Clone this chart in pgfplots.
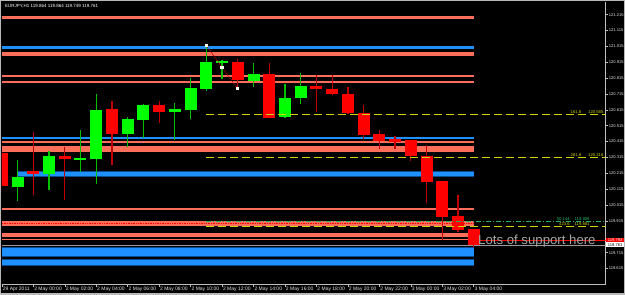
\documentclass[border=0pt]{standalone}
\usepackage{fontspec}
\setmainfont{Liberation Sans}
\usepackage{pgfplots}
\pgfplotsset{compat=1.18}
\usepackage{pgfplotstable}
\usetikzlibrary{backgrounds,calc}

\definecolor{bullbody}{HTML}{00FF00}
\definecolor{bullwick}{HTML}{00C000}
\definecolor{bearbody}{HTML}{FF0000}
\definecolor{bearwick}{HTML}{C00000}
\definecolor{salmonl}{HTML}{FA6E5A}
\definecolor{dblue}{HTML}{1E90FF}
\definecolor{dblueedge}{HTML}{0A4C90}
\definecolor{fibyellow}{HTML}{D2D200}
\definecolor{fibgreen}{HTML}{1EB464}
\definecolor{axisgray}{HTML}{BEBEBE}
\definecolor{labelgray}{HTML}{E6E6E6}
\definecolor{notegray}{HTML}{A6A6A6}

% bullish candles: hour index, open, high, low, close
\pgfplotstableread{
t o hi lo c
-1 120.133 120.299 120.040 120.192
1 120.213 120.358 120.110 120.324
3 120.299 120.488 120.225 120.311
4 120.305 120.715 120.146 120.614
6 120.465 120.568 120.379 120.557
7 120.553 120.652 120.436 120.644
9 120.600 120.656 120.425 120.620
10 120.614 120.816 120.556 120.753
11 120.745 121.024 120.734 120.917
12 120.911 120.929 120.808 120.923
14 120.799 120.911 120.761 120.839
16 120.570 120.778 120.564 120.690
17 120.690 120.849 120.652 120.767
}\bull

% bearish candles
\pgfplotstableread{
t o hi lo c
-2 120.343 120.349 120.097 120.137
0 120.230 120.475 120.078 120.213
2 120.322 120.383 120.047 120.305
5 120.619 120.671 120.267 120.465
8 120.646 120.673 120.534 120.603
13 120.917 120.936 120.745 120.803
15 120.841 120.912 120.564 120.568
18 120.767 120.835 120.603 120.747
19 120.747 120.835 120.709 120.715
20 120.715 120.759 120.592 120.595
21 120.595 120.644 120.433 120.457
22 120.463 120.488 120.368 120.421
23 120.429 120.450 120.370 120.414
24 120.425 120.428 120.295 120.324
25 120.326 120.393 120.026 120.160
26 120.165 120.166 119.795 119.944
27 119.948 120.078 119.847 119.859
28 119.864 119.864 119.749 119.761
}\bear

\begin{document}
\begin{tikzpicture}[x=1pt,y=1pt]
\begin{axis}[
  scale only axis, width=603.66pt, height=282pt,
  xmin=-2, xmax=36.376, ymin=119.517, ymax=121.2951,
  clip mode=individual,
  axis x line=bottom, axis y line=right,
  x axis line style={-}, y axis line style={-},
  axis line style={draw=axisgray, line width=0.8pt},
  tick align=outside, major tick length=2.5pt,
  tick style={draw=axisgray, line width=0.5pt},
  xtick={-2,0,2,...,28},
  xticklabels={29 Apr 2011, 2 May 00:00, 2 May 02:00, 2 May 04:00, 2 May 06:00, 2 May 08:00, 2 May 10:00, 2 May 12:00, 2 May 14:00, 2 May 16:00, 2 May 18:00, 2 May 20:00, 2 May 22:00, 3 May 00:00, 3 May 02:00, 3 May 04:00},
  xticklabel style={anchor=north west, inner sep=0pt, font=\fontsize{5}{5.5}\selectfont, text=labelgray, xshift=0.8pt, yshift=0pt},
  ytick={119.515,119.615,119.715,119.915,120.015,120.115,120.215,120.315,120.415,120.515,120.615,120.715,120.815,120.915,121.015,121.115,121.215},
  yticklabels={119.515,119.615,119.715,119.915,120.015,120.115,120.215,120.315,120.415,120.515,120.615,120.715,120.815,120.915,121.015,121.115,121.215},
  yticklabel style={anchor=west, inner sep=0.6pt, font=\fontsize{4.1}{5}\selectfont, text=labelgray},
]
\coordinate (bl) at (rel axis cs:0,0);
% support / resistance zones (behind the candles)
\addplot[salmonl, line width=2.7pt, forget plot] coordinates {(-2,121.199) (28,121.199)};
\addplot[dblueedge, line width=3.6pt, forget plot] coordinates {(-2,121.008) (28,121.008)};
\addplot[dblue, line width=2.4pt, forget plot] coordinates {(-2,121.008) (28,121.008)};
\addplot[salmonl, line width=4.3pt, forget plot] coordinates {(-2,120.966) (28,120.966)};
\addplot[salmonl, line width=2.3pt, forget plot] coordinates {(-2,120.830) (28,120.830)};
\addplot[salmonl, line width=2.5pt, forget plot] coordinates {(-2,120.792) (28,120.792)};
\addplot[dblue, line width=2.3pt, forget plot] coordinates {(-2,120.439) (28,120.439)};
\addplot[salmonl, line width=1.7pt, forget plot] coordinates {(-2,120.414) (28,120.414)};
\addplot[salmonl, line width=5.3pt, forget plot] coordinates {(-2,120.368) (28,120.368)};
\addplot[dblueedge, line width=6pt, forget plot] coordinates {(-1,120.211) (28,120.211)};
\addplot[dblue, line width=4.6pt, forget plot] coordinates {(-1,120.211) (28,120.211)};
\addplot[salmonl, line width=2pt, forget plot] coordinates {(-2,119.992) (28,119.992)};
\addplot[salmonl, line width=5pt, forget plot] coordinates {(-2,119.897) (28,119.897)};
\addplot[salmonl, line width=3.4pt, forget plot] coordinates {(-2,119.826) (28,119.826)};
\addplot[salmonl, line width=1.3pt, forget plot] coordinates {(-2,119.796) (28,119.796)};
\addplot[dblueedge, line width=10pt, forget plot] coordinates {(-2,119.717) (28,119.717)};
\addplot[dblue, line width=8.4pt, forget plot] coordinates {(-2,119.717) (28,119.717)};
\addplot[dblueedge, line width=6.4pt, forget plot] coordinates {(-2,119.653) (28,119.653)};
\addplot[dblue, line width=4.8pt, forget plot] coordinates {(-2,119.653) (28,119.653)};
% bid line and alert line
\addplot[gray!80, line width=0.8pt, forget plot] coordinates {(-2,119.763) (36.376,119.763)};
\addplot[bearbody, line width=0.8pt, forget plot] coordinates {(28,119.793) (36.376,119.793)};
% wicks
\addplot[draw=none, mark=none, forget plot, error bars/.cd, y dir=both, y explicit, error mark=none,
  error bar style={draw=bullwick, line width=1.2pt}]
  table[x=t, y expr={(\thisrow{hi}+\thisrow{lo})/2}, y error expr={(\thisrow{hi}-\thisrow{lo})/2}] {\bull};
\addplot[draw=none, mark=none, forget plot, error bars/.cd, y dir=both, y explicit, error mark=none,
  error bar style={draw=bearwick, line width=1.2pt}]
  table[x=t, y expr={(\thisrow{hi}+\thisrow{lo})/2}, y error expr={(\thisrow{hi}-\thisrow{lo})/2}] {\bear};
% bodies
\addplot[draw=none, mark=none, forget plot, error bars/.cd, y dir=both, y explicit, error mark=none,
  error bar style={draw=bullbody, line width=12pt, line cap=butt}]
  table[x=t, y expr={(\thisrow{o}+\thisrow{c})/2}, y error expr={abs(\thisrow{c}-\thisrow{o})/2}] {\bull};
\addplot[draw=none, mark=none, forget plot, error bars/.cd, y dir=both, y explicit, error mark=none,
  error bar style={draw=bearbody, line width=12pt, line cap=butt}]
  table[x=t, y expr={(\thisrow{o}+\thisrow{c})/2}, y error expr={abs(\thisrow{c}-\thisrow{o})/2}] {\bear};
% objects in front
\addplot[bearbody, densely dotted, line width=0.7pt, forget plot] coordinates {(-2,119.899) (28,119.899)};
\addplot[fibyellow, dash pattern=on 8pt off 4pt, line width=0.9pt, forget plot] coordinates {(11,120.587) (36.376,120.587)};
\addplot[fibyellow, dash pattern=on 8pt off 4pt, line width=0.9pt, forget plot] coordinates {(11,120.316) (36.376,120.316)};
\addplot[fibyellow, dash pattern=on 8pt off 4pt, line width=0.9pt, forget plot] coordinates {(11,119.881) (36.376,119.881)};
\addplot[fibgreen, dash pattern=on 5pt off 2pt on 1pt off 2pt, line width=0.9pt, forget plot] coordinates {(11,119.912) (36.376,119.912)};
\addplot[bearwick, densely dotted, line width=1pt, mark=square*, mark size=1.1pt, mark options={solid, fill=white, draw=white}, forget plot]
  coordinates {(11,121.020) (12,120.883) (13,120.748)};
% texts
\node[anchor=north west, inner sep=0pt, text=white, font=\fontsize{4.5}{5}\selectfont] at (rel axis cs:0,1) [xshift=3.2pt, yshift=-2pt] {EURJPY,H1 119.864 119.864 119.749 119.761};
\node[anchor=south east, inner sep=0.4pt, text=fibyellow, font=\fontsize{4.2}{5}\selectfont] at (axis cs:36.28,120.587) {161.8\hspace{7pt}120.585};
\node[anchor=south east, inner sep=0.4pt, text=fibyellow, font=\fontsize{4.2}{5}\selectfont] at (axis cs:36.28,120.316) {261.8\hspace{7pt}120.316};
\node[anchor=south east, inner sep=0.4pt, text=fibgreen, font=\fontsize{4.2}{5}\selectfont] at (axis cs:35.4,119.912) {50.144\hspace{5pt}119.908};
\node[anchor=south east, inner sep=0.4pt, text=fibyellow, font=\fontsize{4.2}{5}\selectfont] at (axis cs:35.4,119.881) {423.6\hspace{5pt}119.881};
\node[anchor=base west, inner sep=0pt, text=notegray, font=\fontsize{13.2}{14}\selectfont] at (axis cs:28.27,119.763) {Lots of support here};
\node[anchor=west, inner sep=0.3pt, fill=bearbody, text=white, minimum width=19pt, minimum height=5pt, font=\fontsize{4.1}{5}\selectfont] at (axis cs:36.376,119.793) {119.793};
\node[anchor=west, inner sep=0.3pt, fill=white, text=black, minimum width=19pt, minimum height=5pt, font=\fontsize{4.1}{5}\selectfont] at (axis cs:36.376,119.763) {119.761};
\end{axis}
\begin{pgfonlayer}{background}
\fill[black] ($(bl)+(-1.84,-11)$) rectangle ++(625,295);
\end{pgfonlayer}
\draw[gray!55, line width=1.5pt] ($(bl)+(-1.84+0.75,-11+0.75)$) rectangle ++(623.5,293.5);
\pgfresetboundingbox
\useasboundingbox ($(bl)+(-1.84,-11)$) rectangle ++(625,295);
\end{tikzpicture}
\end{document}
